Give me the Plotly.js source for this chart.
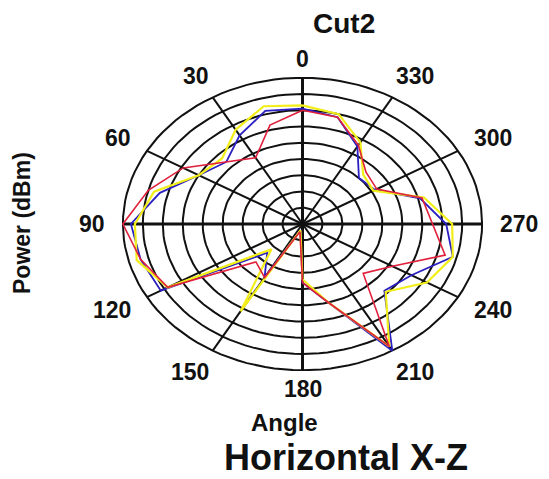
<!DOCTYPE html>
<html><head><meta charset="utf-8">
<script src="https://cdn.plot.ly/plotly-3.0.1.min.js"></script>
<style>html,body{margin:0;padding:0;background:#fff}#chart{width:549px;height:479px}</style>
</head><body><div id="chart"></div>
<script>
// ---- data (angle in degrees, power in dBm) ----
const angles      = [0,15,30,45,60,75,90,105,120,135,150,165,180,195,210,225,240,255,270,285,300,315,330,345];
const powerBlue   = [-9.5,-9,-13.5,-18,-15,-8,-2,-3,-4,-32.5,-26,-43,-27,-20,0,-16,-13.5,-6,-9,-14.5,-24,-25,-17.5,-11];
const powerRed    = [-10,-13.5,-21.5,-18,-10.5,-5,0,-3,-6,-28.5,-26,-42.5,-27,-20,-1.5,-23.5,-19,-8,-12.5,-14,-23.5,-22.5,-17,-11];
const powerYellow = [-8.5,-7.5,-11.5,-16.5,-15,-6.5,-3,-2,-6,-34,-14,-43,-28,-20,-1.5,-15.5,-9,-6,-7.5,-13.5,-24.5,-23.5,-16,-10];
const angleTickValues = [0,30,60,90,120,150,180,210,240,270,300,330];
const angleTickLabels = ['0','30','60','90','120','150','180','210','240','270','300','330'];
const rMin = -45, rMax = 0, rStep = 5;

const FONT = 'Liberation Sans, Arial, sans-serif';
const rad = d => d*Math.PI/180;
function toXY(thetas, powers){
  const x=[], y=[];
  thetas.forEach((t,i)=>{
    const rn=(powers[i]-rMin)/(rMax-rMin);
    x.push(-rn*Math.sin(rad(t))); y.push(rn*Math.cos(rad(t)));
  });
  x.push(x[0]); y.push(y[0]);
  return {x,y};
}

const traces = [];
// grid rings
for (let v=rMin+rStep; v<=rMax+1e-9; v+=rStep){
  const rn=(v-rMin)/(rMax-rMin), gx=[], gy=[];
  for (let a=0;a<=360;a+=3){ gx.push(-rn*Math.sin(rad(a))); gy.push(rn*Math.cos(rad(a))); }
  traces.push({x:gx,y:gy,mode:'lines',line:{color:'#111',width:2},hoverinfo:'skip'});
}
// spokes
angleTickValues.forEach(a=>{
  const main = a%90===0;
  traces.push({x:[0,-Math.sin(rad(a))],y:[0,Math.cos(rad(a))],mode:'lines',
    line:{color:'#111',width:main?3:2},hoverinfo:'skip'});
});

const series = [
  {name:'Blue',   p:powerBlue,   color:'#2a1fc0', w:1.8},
  {name:'Yellow', p:powerYellow, color:'#f2ee1a', w:2.2},
  {name:'Red',    p:powerRed,    color:'#e0203c', w:1.6}
];
series.forEach(s=>{
  const c=toXY(angles,s.p);
  traces.push({x:c.x,y:c.y,mode:'lines',name:s.name,line:{color:s.color,width:s.w}});
});

// angle labels
const annotations = angleTickValues.map((a,i)=>{
  const sx=-Math.sin(rad(a)), cy=Math.cos(rad(a));
  const ax=Math.abs(sx), ay=Math.abs(cy);
  let yanchor, ys;
  if (ay>0.95){ yanchor = cy>0?'bottom':'top'; ys = cy*4; }
  else if (ay>0.6){ yanchor = cy>0?'bottom':'top'; ys = cy*7; }
  else { yanchor='middle'; ys = cy*25; }
  const xs = ax>0.8 ? sx*16 : sx*4;
  return {x:sx,y:cy,xref:'x',yref:'y',text:angleTickLabels[i],showarrow:false,
    xanchor: ax<0.1?'center':(sx<0?'right':'left'),
    yanchor: yanchor, xshift: xs, yshift: ys,
    font:{family:FONT,size:23,color:'#111',weight:'bold'}};
});
const W=549,H=479,L=122,R=66,T=77,B=108,PW=W-L-R,PH=H-T-B;
const px=x=>(x-L)/PW, py=y=>(H-B-y)/PH;
annotations.push(
  {xref:'paper',yref:'paper',x:px(344),y:py(24),text:'Cut2',showarrow:false,xanchor:'center',yanchor:'middle',
   font:{family:FONT,size:28,color:'#111',weight:'bold'}},
  {xref:'paper',yref:'paper',x:px(284),y:py(422),text:'Angle',showarrow:false,xanchor:'center',yanchor:'middle',
   font:{family:FONT,size:24,color:'#111',weight:'bold'}},
  {xref:'paper',yref:'paper',x:px(346),y:py(457),text:'Horizontal X-Z',showarrow:false,xanchor:'center',yanchor:'middle',
   font:{family:FONT,size:36,color:'#111',weight:'bold'}},
  {xref:'paper',yref:'paper',x:px(22),y:py(223),text:'Power (dBm)',showarrow:false,textangle:-90,xanchor:'center',yanchor:'middle',
   font:{family:FONT,size:23,color:'#111',weight:'bold'}}
);

Plotly.newPlot('chart',traces,{
  width:W,height:H,margin:{l:L,r:R,t:T,b:B},
  paper_bgcolor:'#fff',plot_bgcolor:'#fff',showlegend:false,
  xaxis:{range:[-1.005,1.005],visible:false,fixedrange:true},
  yaxis:{range:[-1.005,1.005],visible:false,fixedrange:true},
  annotations:annotations
},{staticPlot:true});
</script></body></html>
